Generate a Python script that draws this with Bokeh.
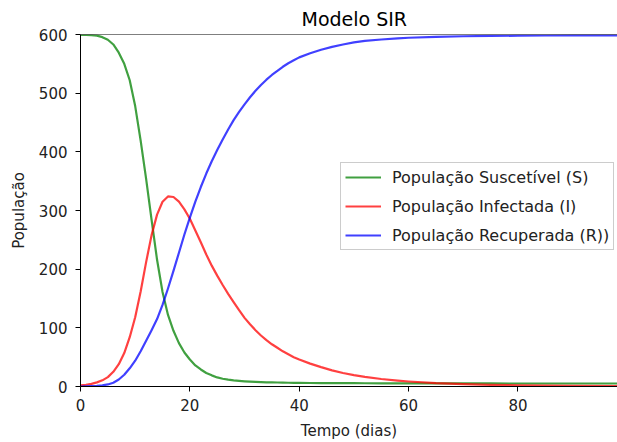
from bokeh.plotting import figure
from bokeh.models import Span, Legend, LegendItem, ColumnDataSource
from bokeh.embed import file_html
from bokeh.resources import INLINE

# Data (days, population)
days = list(range(0, 41)) + [42, 44, 46, 48, 50, 52, 55, 58, 60, 65, 70, 75, 80, 85, 90, 99]

susceptible = [599.5, 599.4, 599, 598, 595.5, 591, 583, 569, 550, 522,
               478, 419, 354, 284, 216, 161, 122, 95, 74, 58,
               46, 36, 29, 23, 19, 15.5, 13.2, 11.6, 10.4, 9.5,
               8.8, 8.3, 7.9, 7.5, 7.2, 7.0, 6.8, 6.6, 6.4, 6.3,
               6.2,
               6.0, 5.9, 5.8, 5.7, 5.6, 5.5, 5.4, 5.4, 5.3, 5.3, 5.2, 5.2, 5.1, 5.1, 5.1, 5.1]

infected = [2, 3, 4.5, 7, 10.5, 16, 25, 38, 57, 84,
            118, 162, 212, 258, 293, 315, 324, 323, 315, 302,
            286, 266, 246, 225, 206, 189, 173, 158, 144, 130,
            117, 106, 96, 87, 79, 72, 66, 60, 55, 50,
            46,
            39, 33, 27.5, 23, 19.5, 16.5, 12.8, 10, 8.5, 5.7, 4, 2.9, 2.1, 1.6, 1.2, 0.8]

recovered = [0, 0.2, 0.5, 1, 2, 3.5, 6.5, 12, 20, 31,
             44, 60, 78, 96, 115, 139, 167, 197, 228, 259,
             288, 315, 340, 363, 384, 403, 421, 438, 454, 468,
             481, 493, 504, 514, 523, 531, 538, 545, 551, 556,
             561,
             568, 574, 579, 583, 586.5, 589, 591.5, 593.5, 594.5, 596, 597, 597.5, 598, 598.3, 598.5, 598.6]

labels = ["População Suscetível (S)", "População Infectada (I)", "População Recuperada (R))"]
colors = ["#008000", "#ff0000", "#0000ff"]
x_ticks = [0, 20, 40, 60, 80]
y_ticks = [0, 100, 200, 300, 400, 500, 600]

FONT = "DejaVu Sans"

p = figure(width=617, height=442, x_range=(0, 98.2), y_range=(0, 600),
           output_backend="svg", toolbar_location=None,
           min_border_left=80, min_border_right=0, min_border_top=34,
           min_border_bottom=53, background_fill_color="white",
           border_fill_color="white")

p.title.text = "Modelo SIR"
p.title.align = "left"
p.title.offset = 221
p.title.text_font = FONT
p.title.text_font_size = "19px"
p.title.text_font_style = "normal"
p.title.text_color = "#000000"

p.outline_line_color = None
p.grid.visible = False

for ax in (p.xaxis, p.yaxis):
    ax.axis_line_color = "#000000"
    ax.major_tick_line_color = "#000000"
    ax.major_tick_out = 5
    ax.major_tick_in = 0
    ax.minor_tick_line_color = None
    ax.major_label_text_font = FONT
    ax.major_label_text_font_size = "15px"
    ax.major_label_text_color = "#222222"
    ax.axis_label_text_font = FONT
    ax.axis_label_text_font_size = "15px"
    ax.axis_label_text_font_style = "normal"
    ax.axis_label_text_color = "#222222"

p.xaxis.ticker = x_ticks
p.yaxis.ticker = y_ticks
p.xaxis.major_label_standoff = 7
p.yaxis.major_label_standoff = 8
p.xaxis.axis_label = "Tempo (dias)"
p.yaxis.axis_label = "População"
p.xaxis.axis_label_standoff = 8
p.yaxis.axis_label_standoff = 8

top_spine = Span(location=600, dimension="width", line_color="#000000", line_width=1)
p.add_layout(top_spine)

src = ColumnDataSource(dict(t=days, S=susceptible, I=infected, R=recovered))
renderers = []
for col, c in zip(["S", "I", "R"], colors):
    r = p.line("t", col, source=src, line_color=c, line_width=2.2, line_alpha=0.75,
               line_join="round")
    renderers.append(r)

legend = Legend(items=[LegendItem(label=l, renderers=[r]) for l, r in zip(labels, renderers)],
                location=(260, 136), margin=0, padding=4, spacing=9,
                glyph_width=36, glyph_height=20, label_height=20, label_standoff=11,
                label_text_font=FONT, label_text_font_size="16px",
                label_text_color="#222222",
                border_line_color="#cccccc", border_line_alpha=1,
                background_fill_alpha=0.8)
p.add_layout(legend)

open("out.html", "w").write(file_html(p, INLINE))
